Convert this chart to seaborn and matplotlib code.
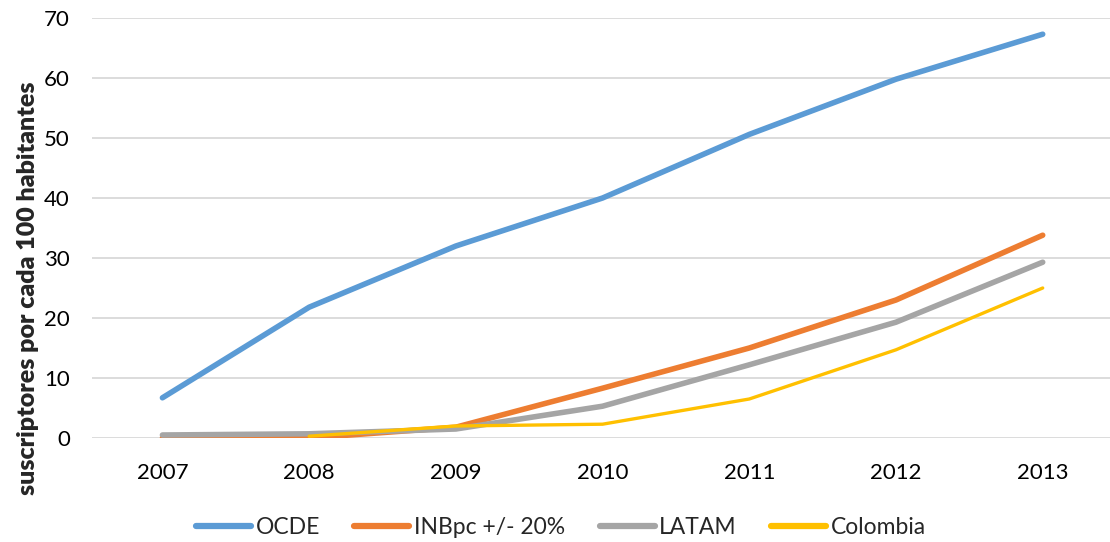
import pandas as pd
import numpy as np
import matplotlib
matplotlib.use("Agg")
import matplotlib.pyplot as plt
import seaborn as sns

# -------------------------------
# Data
# -------------------------------
years = ["2007", "2008", "2009", "2010", "2011", "2012", "2013"]
ocde = [6.7, 21.8, 32.0, 40.0, 50.6, 59.8, 67.3]
inbpc = [0.0, 0.0, 1.8, 8.3, 15.0, 23.0, 33.8]
latam = [0.5, 0.7, 1.5, 5.3, 12.2, 19.3, 29.3]
colombia = [np.nan, 0.3, 2.0, 2.3, 6.5, 14.7, 25.0]

series_names = ["OCDE", "INBpc +/- 20%", "LATAM", "Colombia"]
series_values = [ocde, inbpc, latam, colombia]
colors = ["#5B9BD5", "#ED7D31", "#A5A5A5", "#FFC000"]
widths = [4.0, 4.0, 4.0, 2.4]

rows = []
for name, vals in zip(series_names, series_values):
    for i, (yr, v) in enumerate(zip(years, vals)):
        rows.append({"pos": i, "year": yr, "serie": name, "valor": v})
df = pd.DataFrame(rows)

# -------------------------------
# Plot
# -------------------------------
sns.set_style("white")
plt.rcParams["font.family"] = ["Lato", "DejaVu Sans"]

fig = plt.figure(figsize=(11.1, 5.42), dpi=100)
ax = fig.add_axes([92 / 1110, 104 / 542, 1027 / 1110, 420 / 542])

for name, col, lw in zip(series_names, colors, widths):
    sub = df[df["serie"] == name].dropna()
    sns.lineplot(data=sub, x="pos", y="valor", ax=ax, color=col,
                 linewidth=lw, label=name, solid_capstyle="round")

ax.set_xlim(-0.48, 6.52)
ax.set_ylim(0, 70)
ax.set_xticks(range(len(years)))
ax.set_xticklabels(years)
ax.set_yticks(range(0, 71, 10))
ax.tick_params(axis="both", labelsize=16, length=0, colors="#000000")
ax.tick_params(axis="x", pad=18)
ax.tick_params(axis="y", pad=16)
ax.grid(axis="y", color="#D9D9D9", linewidth=1.3)
ax.set_axisbelow(True)
for s in ax.spines.values():
    s.set_visible(False)

ax.set_xlabel("")
ax.set_ylabel("suscriptores por cada 100 habitantes", fontsize=18,
              fontweight="heavy")
ax.yaxis.set_label_coords(-0.052, 0.357)

# legend centred under the chart (x ~ 561 px)
leg = ax.legend(loc="center", bbox_to_anchor=((561 - 92) / 1027, -0.212),
                ncol=4, frameon=False, fontsize=16.5, handlelength=2.4,
                columnspacing=1.5, handletextpad=0.2)
for line in leg.get_lines():
    line.set_linewidth(4.5)
    line.set_solid_capstyle("round")

fig.savefig("out.png", dpi=100)
